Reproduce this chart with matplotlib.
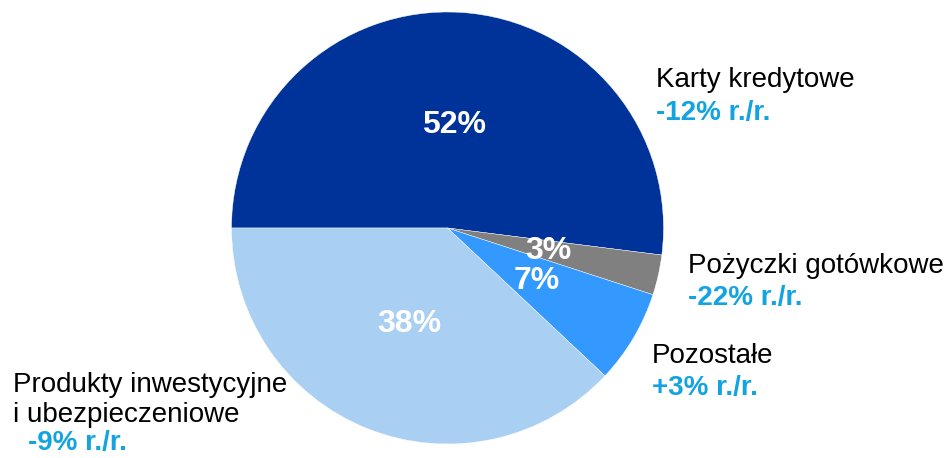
import matplotlib.pyplot as plt

# slice shares (%), clockwise from the left horizontal
shares = [52, 3, 7, 38]
colors = ['#003399', '#808080', '#3399FF', '#A9D0F2']
names = ['Karty kredytowe', 'Pożyczki gotówkowe', 'Pozostałe',
         'Produkty inwestycyjne\ni ubezpieczeniowe']
changes = ['-12% r./r.', '-22% r./r.', '+3% r./r.', '-9% r./r.']

plt.rcParams['font.family'] = ['Liberation Sans', 'DejaVu Sans']

W, H = 950, 458
fig = plt.figure(figsize=(9.5, 4.58), dpi=100)
ax = fig.add_axes([0, 0, 1, 1])

# pie drawn in pixel-like coordinates (y up)
ax.pie(shares, colors=colors, startangle=180, counterclock=False,
       center=(447.5, H - 228), radius=216, frame=True,
       autopct=lambda p: f'{p:.0f}%', pctdistance=0.48,
       wedgeprops=dict(linewidth=0.3, edgecolor='white'),
       textprops=dict(color='white', fontsize=23, fontweight='bold'))

ax.set_xlim(0, W)
ax.set_ylim(0, H)
ax.set_aspect('equal')
ax.axis('off')

blue = '#13A3E0'
# category labels with year-on-year change below
label_pos = [(656, 80, 113), (688, 266, 298), (652, 356, 388), (13, 400, 443)]
for (x, yn, yc), name, chg in zip(label_pos, names, changes):
    ax.text(x, H - yn, name, fontsize=20, color='black', va='center',
            ha='left', linespacing=1.2)
    dx = 15 if '\n' in name else 0
    ax.text(x + dx, H - yc, chg, fontsize=20, color=blue, va='center',
            ha='left', fontweight='bold')

fig.savefig('out.png', dpi=100)
